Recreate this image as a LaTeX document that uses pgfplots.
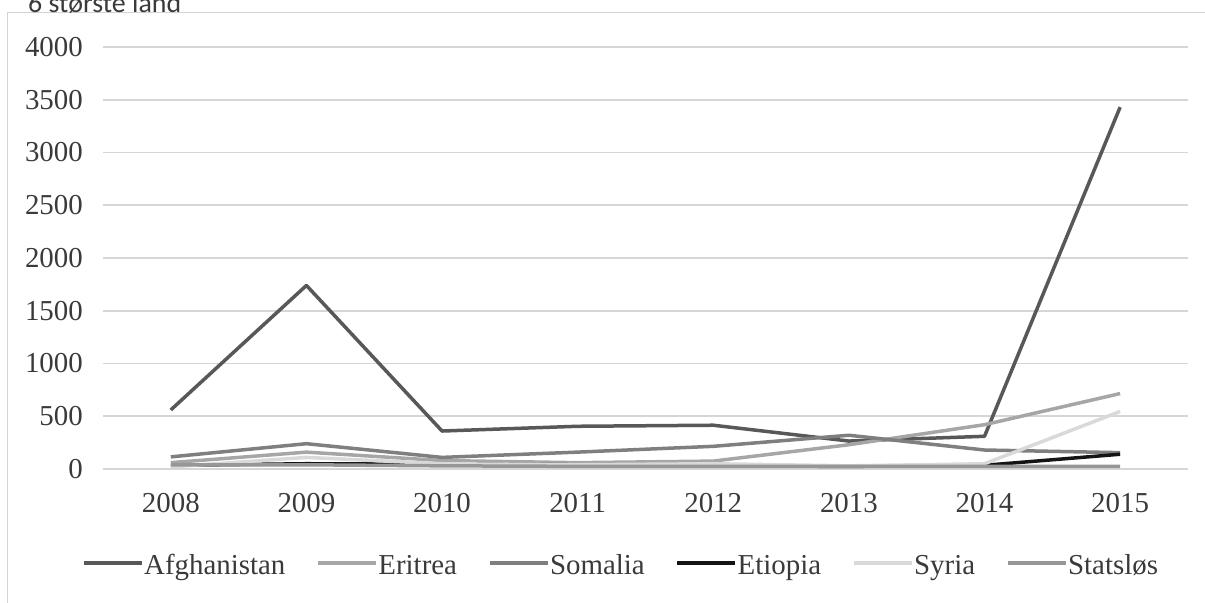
\documentclass[border=0pt]{standalone}
\usepackage{fontspec}
\setmainfont{Liberation Serif}
\newfontfamily\titlefont{Carlito}
\usepackage{pgfplots}
\pgfplotsset{compat=1.18}

\definecolor{cAfg}{HTML}{585858}
\definecolor{cEri}{HTML}{A6A6A6}
\definecolor{cSom}{HTML}{7F7F7F}
\definecolor{cEti}{HTML}{141414}
\definecolor{cSyr}{HTML}{D9D9D9}
\definecolor{cSta}{HTML}{979797}
\definecolor{gridc}{HTML}{D6D6D6}
\definecolor{framec}{HTML}{D4D4D4}
\definecolor{labc}{HTML}{3A3A3A}

% uniform box for legend texts, so the sample lines sit level with the capitals
\newcommand{\lstrut}{\rule[-8bp]{0pt}{32bp}}

\begin{document}
\begin{tikzpicture}
\useasboundingbox (0,0) rectangle (1205bp,-603bp);
% outer chart frame, running off the page at right and bottom
\draw[color=framec, line width=1.3bp] (7.5bp,-640bp) -- (7.5bp,-12.5bp) -- (1240bp,-12.5bp);
% heading above the frame
\node[anchor=base west, inner sep=0pt, text=labc,
      font=\titlefont\fontsize{28}{30}\selectfont] at (28bp,-12bp) {6 største land};
\begin{axis}[
  at={(103bp,-469bp)}, anchor=south west,
  scale only axis, width=1085bp, height=422bp,
  xmin=-0.5, xmax=7.5, ymin=0, ymax=4000,
  xtick={0,1,2,3,4,5,6,7},
  xticklabels={2008,2009,2010,2011,2012,2013,2014,2015},
  ytick={0,500,1000,1500,2000,2500,3000,3500,4000},
  ymajorgrids, grid style={color=gridc, line width=1.6bp},
  axis line style={draw=none}, major tick length=0pt,
  /pgf/number format/assume math mode=true,
  scaled y ticks=false,
  yticklabel style={/pgf/number format/1000 sep={}},
  ticklabel style={font=\fontsize{29}{30}\selectfont, text=labc},
  yticklabel style={anchor=east, inner sep=0pt, xshift=-20bp},
  xticklabel style={anchor=north, inner sep=0pt, yshift=-24bp},
  legend columns=6,
  legend style={at={(axis description cs:-0.01935,-0.2227)}, anchor=west,
    draw=none, fill=none, inner sep=0pt,
    font=\fontsize{29}{30}\selectfont,
    nodes={inner sep=0pt, text=labc},
    /tikz/every odd column/.append style={column sep=0.5bp},
    /tikz/every even column/.append style={column sep=31bp}},
  legend image code/.code={\draw[#1, line width=3.5bp] (0bp,0bp) -- (58bp,0bp);},
  every axis plot/.append style={line width=3.5bp, line join=round, line cap=butt, mark=none},
]
\addplot[cAfg] coordinates {(0,560) (1,1740) (2,360) (3,405) (4,415) (5,265) (6,310) (7,3430)};
\addlegendentry{\lstrut Afghanistan}
\addplot[cEri] coordinates {(0,60) (1,160) (2,80) (3,60) (4,75) (5,230) (6,420) (7,715)};
\addlegendentry{\lstrut Eritrea}
\addplot[cSom] coordinates {(0,115) (1,240) (2,110) (3,160) (4,215) (5,320) (6,180) (7,155)};
\addlegendentry{\lstrut Somalia}
\addplot[cEti] coordinates {(0,35) (1,50) (2,45) (3,40) (4,30) (5,25) (6,35) (7,140)};
\addlegendentry{\lstrut Etiopia}
\addplot[cSyr] coordinates {(0,20) (1,110) (2,50) (3,40) (4,50) (5,30) (6,50) (7,545)};
\addlegendentry{\lstrut Syria}
\addplot[cSta] coordinates {(0,40) (1,40) (2,30) (3,25) (4,25) (5,25) (6,25) (7,25)};
\addlegendentry{\lstrut Statsløs}
\end{axis}
\end{tikzpicture}
\end{document}
